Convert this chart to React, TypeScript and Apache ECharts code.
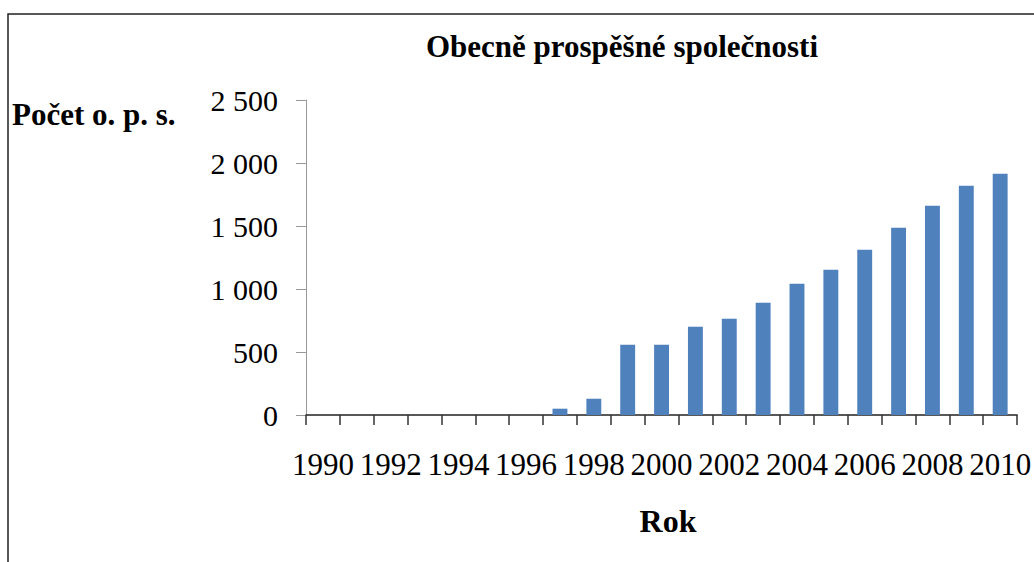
import React, { useEffect, useRef } from "react";
import * as echarts from "echarts";

const years: string[] = [
  "1990", "1991", "1992", "1993", "1994", "1995", "1996", "1997", "1998", "1999", "2000",
  "2001", "2002", "2003", "2004", "2005", "2006", "2007", "2008", "2009", "2010",
];
const counts: number[] = [
  0, 0, 0, 0, 0, 0, 0, 50, 129, 558, 558,
  701, 764, 891, 1042, 1153, 1312, 1487, 1661, 1820, 1915,
];
const chartTitle = "Obecně prospěšné společnosti";
const yAxisTitle = "Počet o. p. s.";
const xAxisTitle = "Rok";

const FONT = "'Liberation Serif', 'Times New Roman', serif";

export default function App() {
  const ref = useRef<HTMLDivElement>(null);
  useEffect(() => {
    document.body.style.margin = "0";
    const chart = echarts.init(ref.current!, null, { renderer: "svg" });
    chart.setOption({
      animation: false,
      backgroundColor: "#ffffff",
      grid: { left: 306, right: 10, top: 100, bottom: 147, containLabel: false },
      xAxis: {
        type: "category",
        data: years,
        boundaryGap: true,
        axisLine: { show: true, lineStyle: { color: "#222", width: 1.5 } },
        axisTick: { show: true, interval: 0, length: 10, lineStyle: { color: "#333", width: 1.5 } },
        axisLabel: {
          interval: 1,
          margin: 34,
          color: "#000",
          fontFamily: FONT,
          fontSize: 31,
        },
        splitLine: { show: false },
      },
      yAxis: {
        type: "value",
        min: 0,
        max: 2500,
        interval: 500,
        axisLine: { show: true, lineStyle: { color: "#999", width: 1 } },
        axisTick: { show: true, length: 10, lineStyle: { color: "#999", width: 1 } },
        axisLabel: {
          margin: 28,
          color: "#000",
          fontFamily: FONT,
          fontSize: 30,
          formatter: (v: number) => String(v).replace(/\B(?=(\d{3})+(?!\d))/g, " "),
        },
        splitLine: { show: false },
      },
      series: [
        {
          type: "bar",
          data: counts,
          barWidth: "44%",
          itemStyle: { color: "#4F81BD" },
        },
      ],
      graphic: [
        {
          type: "rect",
          shape: { x: 8, y: 14, width: 1100, height: 600 },
          style: { fill: "none", stroke: "#222", lineWidth: 1.5 },
          silent: true,
        },
        {
          type: "text",
          x: 622,
          y: 46,
          style: {
            text: chartTitle,
            fontFamily: FONT,
            fontWeight: "bold",
            fontSize: 31,
            fill: "#000",
            textAlign: "center",
            textVerticalAlign: "middle",
          },
        },
        {
          type: "text",
          x: 12,
          y: 114,
          style: {
            text: yAxisTitle,
            fontFamily: FONT,
            fontWeight: "bold",
            fontSize: 31,
            fill: "#000",
            textAlign: "left",
            textVerticalAlign: "middle",
          },
        },
        {
          type: "text",
          x: 668,
          y: 521,
          style: {
            text: xAxisTitle,
            fontFamily: FONT,
            fontWeight: "bold",
            fontSize: 32,
            fill: "#000",
            textAlign: "center",
            textVerticalAlign: "middle",
          },
        },
      ],
    });
    return () => chart.dispose();
  }, []);
  return <div ref={ref} style={{ width: 1034, height: 562 }} />;
}
